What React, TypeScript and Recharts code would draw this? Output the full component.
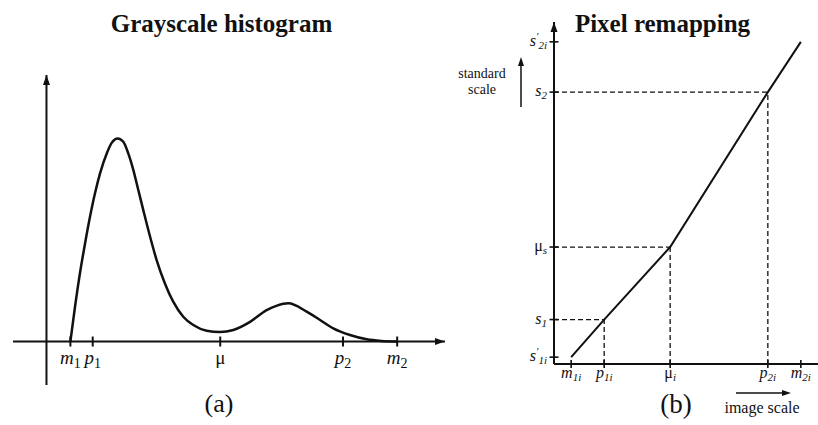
import React from 'react';
import { LineChart, Line, XAxis, YAxis, ReferenceLine, ReferenceDot } from 'recharts';

const FONT = '"Liberation Serif", "Times New Roman", serif';
const INK = '#111';

// ---------- (a) Grayscale histogram ----------
const histGray = [15, 17.9, 21, 24.2, 27.3, 30.4, 33.6, 37.8, 40.9, 44.7, 48.2, 51.3, 54.5, 57.6, 60.7, 65, 69.1, 74.3, 79.5, 85.8, 92.1, 100.5, 108.8, 117.2, 127.7, 138.1, 144.6, 151.7, 163.2, 171.6, 179.9, 190.4, 200.9, 210, 220];
const histCount = [0, 171, 336, 483, 614, 729, 828, 926, 978, 1000, 983, 926, 844, 746, 648, 516, 401, 286, 196, 122, 81, 53, 47, 57, 97, 155, 177, 188, 147, 106, 65, 32, 11, 3, 0];
const histTicks = [15, 29, 109, 186, 220];
const histTickBase = ['m', 'p', 'μ', 'p', 'm'];
const histTickSub = ['1', '1', '', '2', '2'];

// ---------- (b) Pixel remapping ----------
const remapImage = [65, 190, 440, 810, 935];
const remapStandard = [20, 130, 342, 795, 942];
const remapXBase = ['m', 'p', 'μ', 'p', 'm'];
const remapXSub = ['1i', '1i', 'i', '2i', '2i'];
const remapYBase = ['s', 's', 'μ', 's', 's'];
const remapYPrime = [true, false, false, false, true];
const remapYSub = ['1i', '1', 's', '2', '2i'];
const guideIdx = [1, 2, 3];

const histData = histGray.map((g, i) => ({ g, count: histCount[i] }));
const remapData = remapImage.map((x, i) => ({ x, y: remapStandard[i] }));

const ArrowUp = (props: any) => {
  const { cx, cy } = props;
  return <polygon points={`${cx},${cy} ${cx - 3.5},${cy + 10} ${cx + 3.5},${cy + 10}`} fill={INK} />;
};
const ArrowRight = (props: any) => {
  const { cx, cy } = props;
  return <polygon points={`${cx},${cy} ${cx - 10},${cy - 3.5} ${cx - 10},${cy + 3.5}`} fill={INK} />;
};

const histTickShape = (i: number) => (props: any) => {
  const { cx, cy } = props;
  const base = histTickBase[i];
  const greek = base === 'μ';
  return (
    <g>
      <line x1={cx} x2={cx} y1={cy - 5} y2={cy + 5} stroke={INK} strokeWidth={2} />
      <text x={cx} y={cy + 22} textAnchor="middle" fontFamily={FONT} fontSize={19} fill={INK}
        fontStyle={greek ? 'normal' : 'italic'}>
        {base}
        {histTickSub[i] ? <tspan fontSize={14} dy={4} fontStyle="normal">{histTickSub[i]}</tspan> : null}
      </text>
    </g>
  );
};

const RemapXTick = (props: any) => {
  const { x, y, payload } = props;
  const i = remapImage.indexOf(payload.value);
  if (i < 0) return null;
  const base = remapXBase[i];
  return (
    <g>
      <line x1={x} x2={x} y1={y - 4} y2={y + 4} stroke={INK} strokeWidth={1.6} />
      <text x={x} y={y + 14} textAnchor="middle" fontFamily={FONT} fontSize={16} fill={INK} fontStyle="italic">
        <tspan fontStyle={base === 'μ' ? 'normal' : 'italic'}>{base}</tspan>
        <tspan fontSize={11} dy={3}>{remapXSub[i]}</tspan>
      </text>
    </g>
  );
};

const RemapYTick = (props: any) => {
  const { x, y, payload } = props;
  const i = remapStandard.indexOf(payload.value);
  if (i < 0) return null;
  const base = remapYBase[i];
  return (
    <g>
      <line x1={x - 4.5} x2={x + 4.5} y1={y} y2={y} stroke={INK} strokeWidth={1.6} />
      <text x={x - 7} y={y + 4} textAnchor="end" fontFamily={FONT} fontSize={16} fill={INK} fontStyle="italic">
        <tspan fontStyle={base === 'μ' ? 'normal' : 'italic'}>{base}</tspan>
        {remapYPrime[i] ? <tspan fontSize={11} dy={-6}>′</tspan> : null}
        <tspan fontSize={11} dy={remapYPrime[i] ? 9 : 3}>{remapYSub[i]}</tspan>
      </text>
    </g>
  );
};

export default function App() {
  return (
    <div style={{ position: 'absolute', left: 0, top: 0, width: 818, height: 425, background: '#fff', overflow: 'hidden' }}>
      <div style={{ position: 'absolute', left: 0, top: 0 }}>
        <LineChart width={450} height={425} data={histData} margin={{ top: 75, right: 5, bottom: 40, left: 13 }}>
          <XAxis type="number" dataKey="g" domain={[-21, 250]} allowDataOverflow hide />
          <YAxis type="number" domain={[-214, 1312]} allowDataOverflow hide />
          <ReferenceLine y={0} stroke={INK} strokeWidth={2} />
          <ReferenceLine x={0} stroke={INK} strokeWidth={2} />
          <ReferenceDot x={250} y={0} r={1} shape={ArrowRight} />
          <ReferenceDot x={0} y={1312} r={1} shape={ArrowUp} />
          {histTicks.map((v, i) => (
            <ReferenceDot key={'t' + i} x={v} y={0} r={1} shape={histTickShape(i)} />
          ))}
          <Line type="monotone" dataKey="count" stroke={INK} strokeWidth={2.5} dot={false} isAnimationActive={false} />
        </LineChart>
      </div>
      <div style={{ position: 'absolute', left: 450, top: 0 }}>
        <LineChart width={368} height={425} data={remapData} margin={{ top: 22, right: 0, bottom: 31, left: 44 }}>
          <XAxis type="number" dataKey="x" domain={[0, 1000]} allowDataOverflow ticks={remapImage} interval={0}
            tickSize={0} tickMargin={0} tickLine={false} height={30}
            axisLine={{ stroke: INK, strokeWidth: 2 }} tick={<RemapXTick />} />
          <YAxis type="number" dataKey="y" domain={[0, 1000]} allowDataOverflow ticks={remapStandard} interval={0}
            tickSize={0} tickMargin={0} tickLine={false} width={60}
            axisLine={{ stroke: INK, strokeWidth: 2 }} tick={<RemapYTick />} />
          {guideIdx.map((k) => (
            <ReferenceLine key={'h' + k} segment={[{ x: 0, y: remapStandard[k] }, { x: remapImage[k], y: remapStandard[k] }]}
              stroke={INK} strokeWidth={1.3} strokeDasharray="5 3" />
          ))}
          {guideIdx.map((k) => (
            <ReferenceLine key={'v' + k} segment={[{ x: remapImage[k], y: 0 }, { x: remapImage[k], y: remapStandard[k] }]}
              stroke={INK} strokeWidth={1.3} strokeDasharray="5 3" />
          ))}
          <ReferenceDot x={0} y={1000} r={1} shape={ArrowUp} />
          <Line type="linear" dataKey="y" stroke={INK} strokeWidth={2} dot={false} isAnimationActive={false} />
        </LineChart>
      </div>
      <svg width={818} height={425} style={{ position: 'absolute', left: 0, top: 0, pointerEvents: 'none' }}>
        <text x={221.5} y={32} textAnchor="middle" fontFamily={FONT} fontWeight="bold" fontSize={25} fill={INK}>Grayscale histogram</text>
        <text x={662.5} y={32} textAnchor="middle" fontFamily={FONT} fontWeight="bold" fontSize={25} fill={INK}>Pixel remapping</text>
        <text x={219} y={412} textAnchor="middle" fontFamily={FONT} fontSize={26} fill={INK}>(a)</text>
        <text x={676} y={413} textAnchor="middle" fontFamily={FONT} fontSize={27} fill={INK}>(b)</text>
        <text x={482} y={78} textAnchor="middle" fontFamily={FONT} fontSize={14} fill={INK}>standard</text>
        <text x={482} y={94} textAnchor="middle" fontFamily={FONT} fontSize={14} fill={INK}>scale</text>
        <line x1={521} x2={521} y1={107} y2={64} stroke={INK} strokeWidth={1.5} />
        <polygon points="521,57 518,66 524,66" fill={INK} />
        <text x={762} y={413} textAnchor="middle" fontFamily={FONT} fontSize={16} fill={INK}>image scale</text>
        <line x1={736} x2={784} y1={393} y2={393} stroke={INK} strokeWidth={1.3} />
        <polygon points="791,393 782,390 782,396" fill={INK} />
      </svg>
    </div>
  );
}
